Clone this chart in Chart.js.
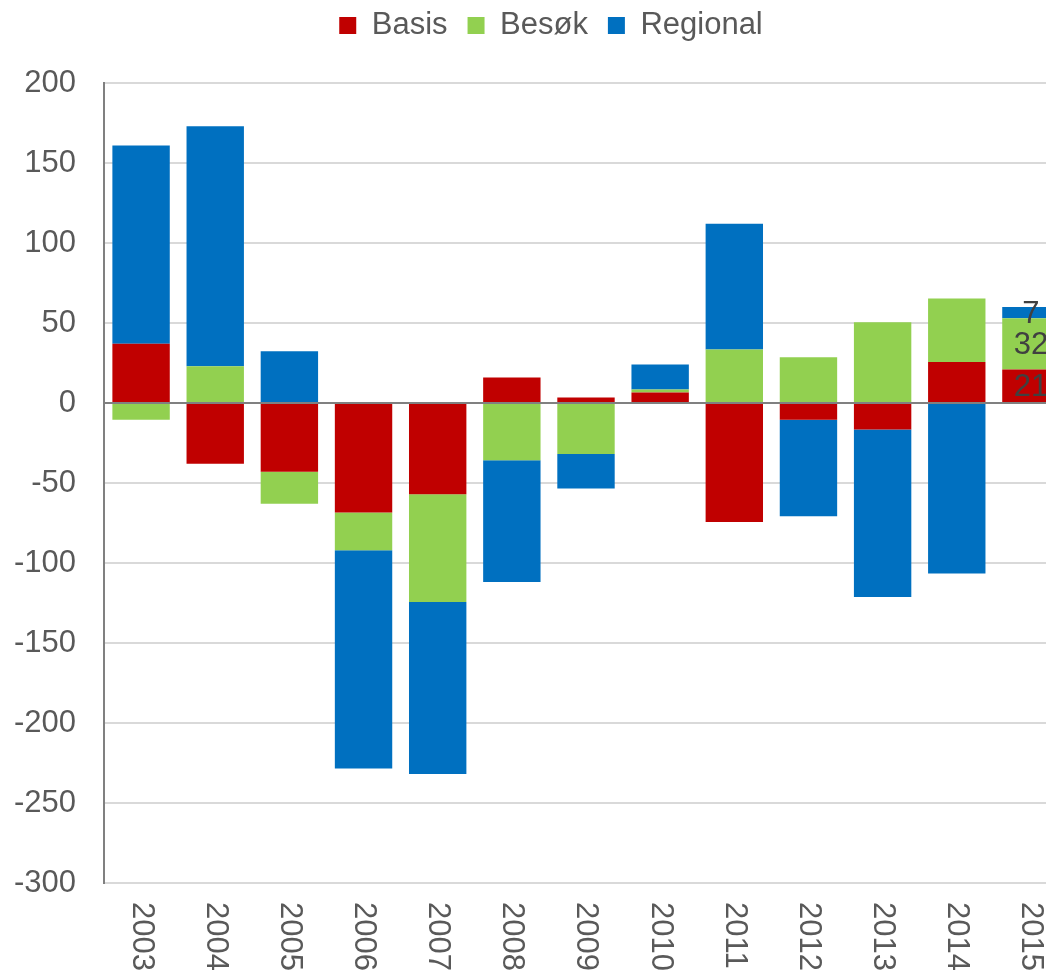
<!DOCTYPE html>
<html>
<head>
<meta charset="utf-8">
<script src="https://cdn.jsdelivr.net/npm/chart.js@4/dist/chart.umd.min.js"></script>
<style>
  html, body { margin: 0; padding: 0; background: #fff; overflow: hidden; }
  #chart { display: block; }
</style>
</head>
<body>
<canvas id="chart" width="1100" height="973"></canvas>
<script>
const years = ["2003", "2004", "2005", "2006", "2007", "2008", "2009", "2010", "2011", "2012", "2013", "2014", "2015"];
const basis = [37, -38, -43, -68.5, -57, 16, 3.4, 6.5, -74.4, -10.4, -16.6, 25.6, 21];
const besok = [-10.4, 23, -20, -23.6, -67.3, -35.8, -31.9, 1.9, 33.4, 28.6, 50.4, 39.7, 32];
const regional = [124, 150, 32.3, -136.4, -107.6, -76.1, -21.6, 15.6, 78.7, -60.4, -104.6, -106.6, 7];
const yTicks = [-300, -250, -200, -150, -100, -50, 0, 50, 100, 150, 200];

const labelFont = '31px "Liberation Sans", Arial, sans-serif';

// legend gets a fixed height so the plot starts at the right place,
// and is nudged to sit where the original one sits
const legendSpace = {
  id: "legendSpace",
  beforeInit(chart) {
    const lg = chart.legend;
    const fit = lg.fit;
    lg.fit = function() {
      fit.call(this);
      this.height = 83;
    };
    const draw = lg.draw;
    lg.draw = function() {
      this.ctx.save();
      this.ctx.translate(17, -10);
      draw.call(this);
      this.ctx.restore();
    };
  }
};

// zero line on top of the bars, year labels reading downwards, values on the last bar
const extras = {
  id: "extras",
  afterDatasetsDraw(chart) {
    const ctx = chart.ctx;
    const area = chart.chartArea;
    const y = chart.scales.y;
    const x = chart.scales.x;
    const y0 = y.getPixelForValue(0);

    ctx.save();
    ctx.strokeStyle = "#808080";
    ctx.lineWidth = 2;
    ctx.beginPath();
    ctx.moveTo(area.left, y0);
    ctx.lineTo(area.right, y0);
    ctx.stroke();

    ctx.font = labelFont;
    ctx.fillStyle = "#595959";
    ctx.textAlign = "left";
    ctx.textBaseline = "middle";
    years.forEach(function(yr, i) {
      ctx.save();
      ctx.translate(x.getPixelForValue(i), area.bottom + 19);
      ctx.rotate(Math.PI / 2);
      ctx.fillText(yr, 0, 0);
      ctx.restore();
    });

    const last = years.length - 1;
    ctx.fillStyle = "#404040";
    ctx.textAlign = "center";
    chart.data.datasets.forEach(function(ds, di) {
      const bar = chart.getDatasetMeta(di).data[last];
      const c = bar.getCenterPoint();
      ctx.fillText(String(ds.data[last]), c.x, c.y + 2);
    });
    ctx.restore();
  }
};

new Chart(document.getElementById("chart"), {
  type: "bar",
  data: {
    labels: years,
    datasets: [
      { label: "Basis", data: basis, backgroundColor: "#C00000" },
      { label: "Besøk", data: besok, backgroundColor: "#92D050" },
      { label: "Regional", data: regional, backgroundColor: "#0070C0" }
    ]
  },
  options: {
    responsive: false,
    animation: false,
    devicePixelRatio: 1,
    categoryPercentage: 1,
    barPercentage: 0.774,
    layout: { padding: { left: 0, right: 32, top: 0, bottom: 0 } },
    plugins: {
      tooltip: { enabled: false },
      legend: {
        position: "top",
        labels: {
          color: "#595959",
          font: { family: '"Liberation Sans", Arial, sans-serif', size: 31 },
          boxWidth: 17,
          boxHeight: 17,
          padding: 20
        }
      }
    },
    scales: {
      x: {
        stacked: true,
        grid: { display: false },
        border: { display: false },
        ticks: { display: false },
        afterFit(scale) { scale.height = 90; }
      },
      y: {
        stacked: true,
        min: -300,
        max: 200,
        afterBuildTicks(scale) {
          scale.ticks = yTicks.map(function(v) { return { value: v }; });
        },
        afterFit(scale) { scale.width = 104; },
        grid: { color: "#d9d9d9", lineWidth: 2, drawTicks: false },
        border: { color: "#808080", width: 2 },
        ticks: {
          color: "#595959",
          padding: 28,
          font: { family: '"Liberation Sans", Arial, sans-serif', size: 31 }
        }
      }
    }
  },
  plugins: [legendSpace, extras]
});
</script>
</body>
</html>
